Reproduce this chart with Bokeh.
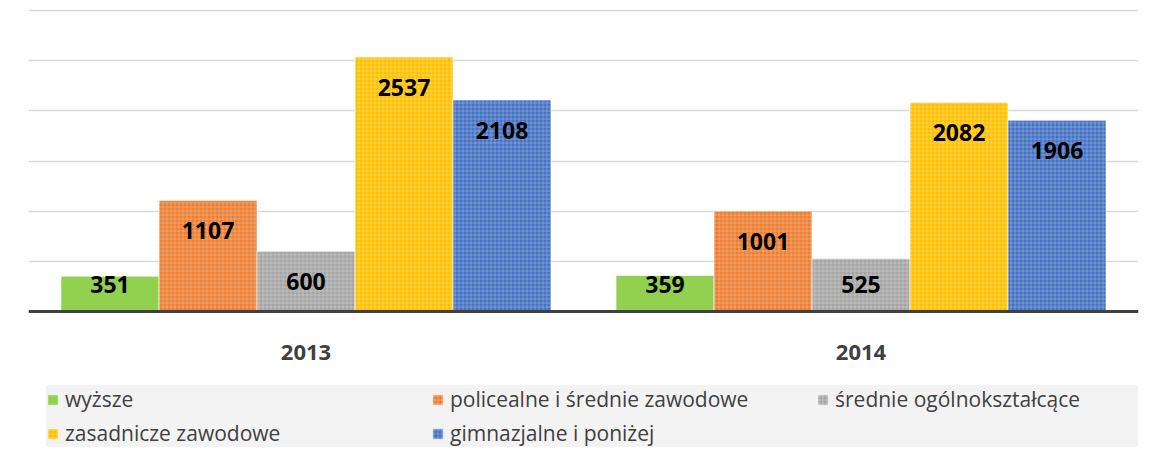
from bokeh.plotting import figure
from bokeh.models import FactorRange, Range1d, ColumnDataSource, Legend, LegendItem, Span
from bokeh.transform import dodge
from bokeh.core.properties import value
from bokeh.embed import file_html
from bokeh.resources import INLINE

years = ["2013", "2014"]
series_names = ["wyższe", "policealne i średnie zawodowe", "średnie ogólnokształcące",
                "zasadnicze zawodowe", "gimnazjalne i poniżej"]
wyzsze = [351, 359]
policealne = [1107, 1001]
srednie = [600, 525]
zasadnicze = [2537, 2082]
gimnazjalne = [2108, 1906]
colors = ["#92d050", "#ed7d31", "#a5a5a5", "#ffc000", "#4472c4"]

series = [wyzsze, policealne, srednie, zasadnicze, gimnazjalne]
keys = ["s0", "s1", "s2", "s3", "s4"]

upp = 3000 / 301  # data units per pixel
data = {"year": years, "year_ly": [-41 * upp] * len(years)}
for k, vals in zip(keys, series):
    data[k] = vals
    data[k + "_ly"] = [max(v - 300, 265) for v in vals]
    data[k + "_txt"] = [str(v) for v in vals]
src = ColumnDataSource(data)

p = figure(width=1146, height=448, x_range=FactorRange(*years, range_padding=0),
           y_range=Range1d(-137 * upp, 311 * upp), output_backend="svg", toolbar_location=None,
           min_border_left=28, min_border_right=8, min_border_top=0, min_border_bottom=0)
p.outline_line_color = None
p.background_fill_color = "white"
p.border_fill_color = "white"
p.xaxis.visible = False
p.yaxis.visible = False
p.xgrid.grid_line_color = None
p.ygrid.grid_line_color = "#d9d9d9"
p.ygrid.grid_line_width = 1.5
p.ygrid.ticker = [500, 1000, 1500, 2000, 2500, 3000]

bw = 98 / 555
offsets = [-2 * bw, -bw, 0, bw, 2 * bw]
items = []
for i, k in enumerate(keys):
    hatch = dict() if i == 0 else dict(hatch_pattern="+", hatch_color="white",
                                        hatch_alpha=0.25, hatch_scale=4, hatch_weight=1)
    r = p.vbar(x=dodge("year", offsets[i], range=p.x_range), top=k, width=bw, source=src,
               fill_color=colors[i], line_color="white", line_width=0.6, **hatch)
    items.append(LegendItem(label=series_names[i], renderers=[r]))
    p.text(x=dodge("year", offsets[i], range=p.x_range), y=k + "_ly", text=k + "_txt",
           source=src, text_align="center", text_baseline="middle",
           text_font=value("Open Sans"), text_font_style="bold", text_font_size="23px",
           text_color="black")

# category axis: baseline and year labels
p.add_layout(Span(location=0, dimension="width", line_color="#404040", line_width=3))
p.text(x="year", y="year_ly", text="year", source=src, text_align="center",
       text_baseline="middle", text_font=value("Open Sans"), text_font_style="bold",
       text_font_size="22px", text_color="#404040")

legend = Legend(items=items, location=(18, 1), orientation="horizontal", ncols=3,
                background_fill_color="#f3f3f3", background_fill_alpha=1,
                border_line_color=None, padding=8, spacing=6, margin=0,
                glyph_width=13, glyph_height=13, label_standoff=6, label_width=360,
                label_height=20, label_text_font="Open Sans", label_text_font_size="21px",
                label_text_color="#404040")
p.add_layout(legend, "center")

open("out.html", "w").write(file_html(p, INLINE))
